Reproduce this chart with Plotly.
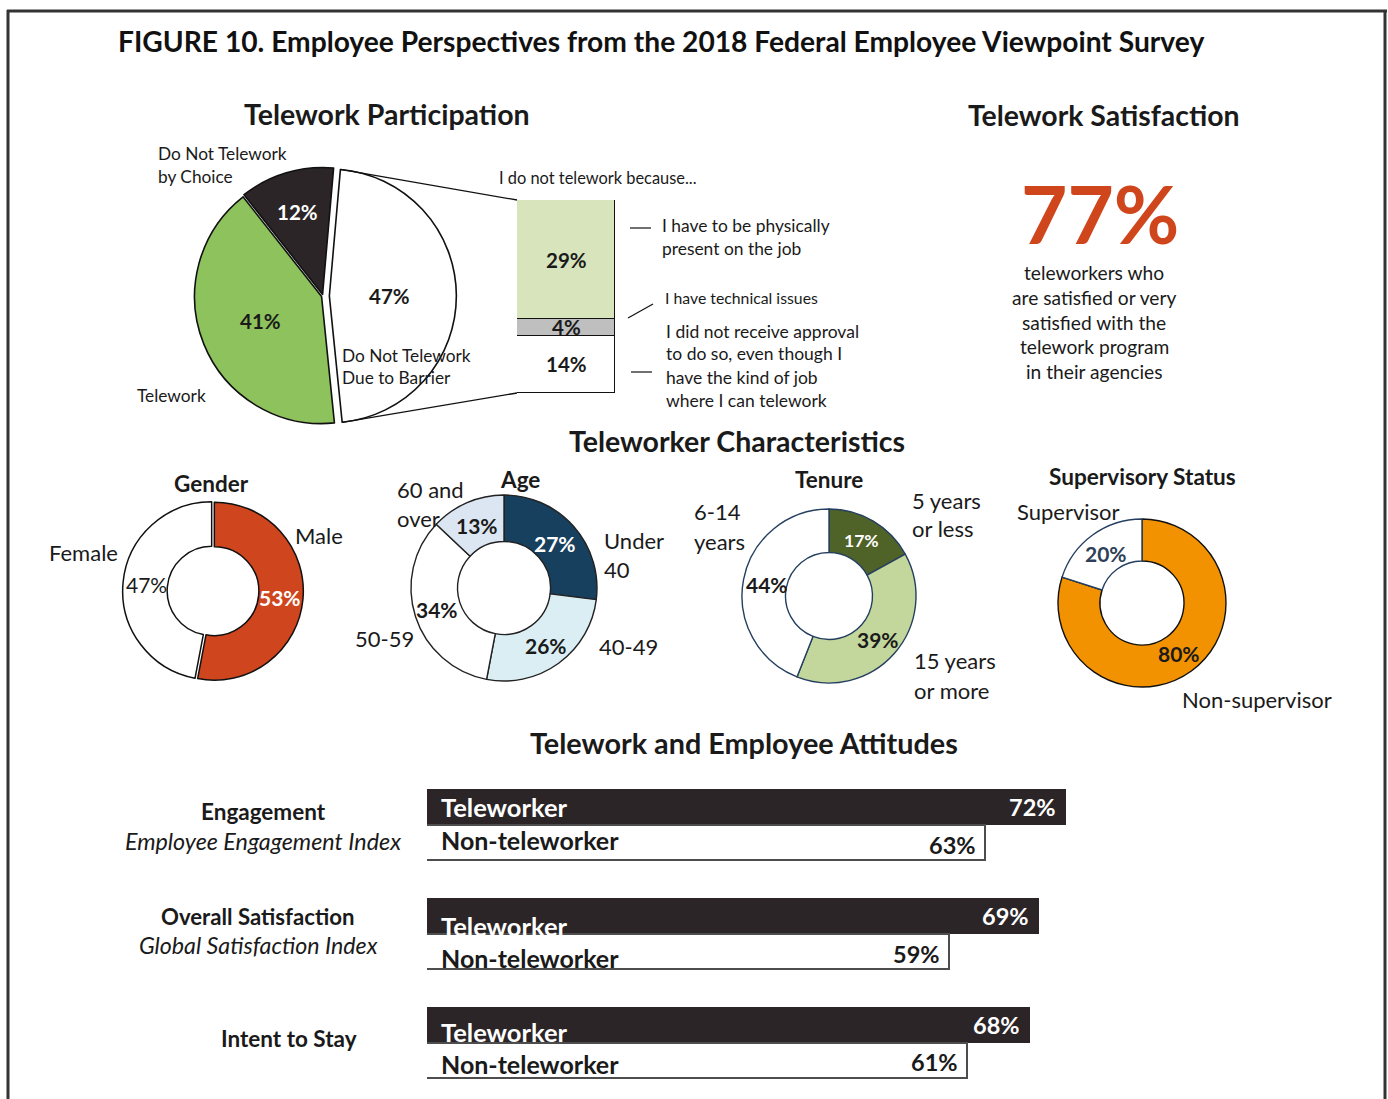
import math
import plotly.graph_objects as go

W, H = 1388, 1099
FONT = "Lato, 'Open Sans', sans-serif"
INK = "#1a1a1a"

# ---------------- data ----------------
part_labels = ["Do Not Telework Due to Barrier", "Telework", "Do Not Telework by Choice"]
part_values = [47, 41, 12]

reason_labels = ["Did not receive approval", "Technical issues", "Physically present on the job"]
reason_values = [14, 4, 29]  # stacked bottom to top

satisfaction_pct = 77

gender_labels = ["Male", "Female"]
gender_values = [53, 47]

age_labels = ["Under 40", "40-49", "50-59", "60 and over"]
age_values = [27, 26, 34, 13]

tenure_labels = ["5 years or less", "15 years or more", "6-14 years"]
tenure_values = [17, 39, 44]

super_labels = ["Non-supervisor", "Supervisor"]
super_values = [80, 20]

attitude_titles = ["Engagement", "Overall Satisfaction", "Intent to Stay"]
attitude_subtitles = ["Employee Engagement Index", "Global Satisfaction Index", ""]
teleworker_pct = [72, 69, 68]
non_teleworker_pct = [63, 59, 61]

# ---------------- helpers ----------------
def fx(x):
    return x / W


def fy(y):
    return 1 - y / H


annotations = []
shapes = []
PAD = 2.5  # annotation box padding, compensated so text starts at the given x


def text(x, y, s, size=16, bold=False, italic=False, color=INK, anchor="left", **extra):
    if bold:
        s = f"<b>{s}</b>"
    if italic:
        s = f"<i>{s}</i>"
    if anchor == "left":
        x -= PAD
    elif anchor == "right":
        x += PAD
    annotations.append(dict(
        x=fx(x), y=fy(y), xref="paper", yref="paper", text=s, showarrow=False,
        xanchor=anchor, yanchor="middle",
        font=dict(size=size, color=color, family=FONT), **extra))


def line(x0, y0, x1, y1, color="#111", width=1.2):
    shapes.append(dict(type="line", xref="paper", yref="paper",
                       x0=fx(x0), y0=fy(y0), x1=fx(x1), y1=fy(y1),
                       line=dict(color=color, width=width)))


fig = go.Figure()


def pie(labels, values, colors, line_colors, cx, cy, r, hole=0, pull=0.0,
        rotation=0, lw=1.5):
    pulls = pull if isinstance(pull, list) else [pull] * len(values)
    half = r * (1 + max(pulls))
    fig.add_trace(go.Pie(
        labels=labels, values=values, sort=False, direction="clockwise",
        rotation=rotation, hole=hole, pull=pulls, textinfo="none",
        marker=dict(colors=colors, line=dict(color=line_colors, width=lw)),
        domain=dict(x=[fx(cx - half), fx(cx + half)], y=[fy(cy + half), fy(cy - half)]),
        showlegend=False, hoverinfo="label+percent"))


def slice_labels(values, cx, cy, r, rotation, fracs, styles):
    total = sum(values)
    acc = 0
    for v, f, st in zip(values, fracs, styles):
        mid = math.radians(rotation + 360 * (acc + v / 2) / total)
        x = cx + f * r * math.sin(mid)
        y = cy - f * r * math.cos(mid)
        text(x, y, f"{v}%", anchor="center", **st)
        acc += v


# ---------------- frame & headings ----------------
line(7, 11, 1387, 11, color="#333", width=3)
line(8, 10, 8, H, color="#333", width=3)
line(1385, 10, 1385, H, color="#333", width=3)

text(118, 41, "FIGURE 10. Employee Perspectives from the 2018 Federal Employee Viewpoint Survey",
     size=28.2, bold=True, color="#111")
text(387, 114, "Telework Participation", size=28.5, bold=True, anchor="center")
text(1103, 115, "Telework Satisfaction", size=28.4, bold=True, anchor="center")
text(737, 441, "Teleworker Characteristics", size=28.5, bold=True, anchor="center")
text(744, 743, "Telework and Employee Attitudes", size=28.8, bold=True, anchor="center")

# ---------------- telework participation pie ----------------
P_CX, P_CY, P_R, P_ROT = 323, 296, 127, 5
P_PULL = [0.05, 0.012, 0.012]
pie(part_labels, part_values, ["#ffffff", "#8EC25C", "#2B2527"], "#111",
    P_CX, P_CY, P_R, pull=P_PULL, rotation=P_ROT, lw=1.6)
slice_labels(part_values, P_CX, P_CY, P_R, P_ROT, [0.52, 0.53, 0.69],
             [dict(size=20.5, bold=True), dict(size=20.5, bold=True),
              dict(size=20.5, bold=True, color="#ffffff")])

text(158, 153, "Do Not Telework", size=17.3)
text(158, 176, "by Choice", size=17.3)
text(137, 395, "Telework", size=17.3)
text(342, 355, "Do Not Telework", size=17.3)
text(342, 378, "Due to Barrier", size=17.3)

# stacked breakdown of the barrier slice
STACK_TOP, STACK_BOT = 200, 393
fig.add_trace(go.Bar(x=[0], y=[reason_values[0]], width=1, marker=dict(color="#ffffff", line=dict(color="#111", width=1.4)),
                     xaxis="x2", yaxis="y2", showlegend=False, name=reason_labels[0]))
fig.add_trace(go.Bar(x=[0], y=[reason_values[1]], width=1, marker=dict(color="#BFBFBF", line=dict(color="#111", width=1.4)),
                     xaxis="x2", yaxis="y2", showlegend=False, name=reason_labels[1]))
fig.add_trace(go.Bar(x=[0], y=[reason_values[2]], width=1, marker=dict(color="#D7E4BC", line=dict(color="#111", width=1.4)),
                     xaxis="x2", yaxis="y2", showlegend=False, name=reason_labels[2]))
acc = 0
for v in reason_values:
    annotations.append(dict(x=0, y=acc + v / 2, xref="x2", yref="y2", text=f"<b>{v}%</b>",
                            showarrow=False, font=dict(size=20.5, color=INK, family=FONT)))
    acc += v

# connector lines from the pulled slice to the breakdown column
tot = sum(part_values)
a0 = math.radians(P_ROT)
a1 = math.radians(P_ROT + 360 * part_values[0] / tot)
bis = (a0 + a1) / 2
pcx = P_CX + P_PULL[0] * P_R * math.sin(bis)
pcy = P_CY - P_PULL[0] * P_R * math.cos(bis)
line(pcx + P_R * math.sin(a0), pcy - P_R * math.cos(a0), 517, STACK_TOP, width=1.3)
line(pcx + P_R * math.sin(a1), pcy - P_R * math.cos(a1), 517, STACK_BOT, width=1.3)

text(499, 178, "I do not telework because...", size=16.4)
line(630, 228, 651, 228)
text(662, 225, "I have to be physically", size=17.4)
text(662, 248, "present on the job", size=17.4)
line(628, 318, 653, 304)
text(665, 298, "I have technical issues", size=15.8)
line(631, 372, 652, 372)
text(666, 331, "I did not receive approval", size=17.5)
text(666, 354, "to do so, even though I", size=17.5)
text(666, 377, "have the kind of job", size=17.5)
text(666, 400, "where I can telework", size=17.5)

# ---------------- telework satisfaction ----------------
text(1100, 213, f"{satisfaction_pct}%", size=80, bold=True, color="#D0461C", anchor="center",
     height=78, valign="middle")
for i, s in enumerate(["teleworkers who", "are satisfied or very", "satisfied with the",
                       "telework program", "in their agencies"]):
    text(1094, 273 + i * 24.6, s, size=19.2, anchor="center")

# ---------------- characteristics donuts ----------------
LBL = 22
# gender
pie(gender_labels, gender_values, ["#CF451E", "#ffffff"], "#111", 213, 591, 89,
    hole=0.5, pull=0.015, lw=1.5)
slice_labels(gender_values, 213, 591, 89, 0, [0.76, 0.75],
             [dict(size=21, bold=True, color="#ffffff"), dict(size=21, color=INK)])
text(212, 484, "Gender", size=22.5, bold=True, anchor="center")
text(295, 535, "Male", size=LBL)
text(49, 552, "Female", size=LBL)

# age
pie(age_labels, age_values, ["#17405E", "#DBEEF4", "#ffffff", "#DCE6F2"], "#222",
    504, 588, 93, hole=0.5, lw=1.4)
slice_labels(age_values, 504, 588, 93, 0, [0.73, 0.77, 0.76, 0.73],
             [dict(size=21, bold=True, color="#ffffff"), dict(size=21, bold=True),
              dict(size=21, bold=True), dict(size=21, bold=True)])
text(520, 479, "Age", size=22.5, bold=True, anchor="center")
text(398, 489, "60 and", size=LBL)
text(398, 518, "over", size=LBL)
text(604, 540, "Under", size=LBL)
text(604, 569, "40", size=LBL)
text(599, 646, "40-49", size=LBL)
text(355, 638, "50-59", size=LBL)

# tenure
pie(tenure_labels, tenure_values, ["#4F6228", "#C3D69B", "#ffffff"], "#243F60",
    829, 596, 87, hole=0.5, lw=1.4)
slice_labels(tenure_values, 829, 596, 87, 0, [0.74, 0.75, 0.72],
             [dict(size=17.5, bold=True, color="#ffffff"), dict(size=21, bold=True),
              dict(size=21, bold=True)])
text(829, 480, "Tenure", size=22.5, bold=True, anchor="center")
text(912, 501, "5 years", size=LBL)
text(912, 529, "or less", size=LBL)
text(694, 511, "6-14", size=LBL)
text(694, 541, "years", size=LBL)
text(914, 661, "15 years", size=LBL)
text(914, 690, "or more", size=LBL)

# supervisory status
pie(super_labels, super_values, ["#F29200", "#ffffff"], ["#111", "#243F60"],
    1142, 603, 84, hole=0.5, lw=1.4)
slice_labels(super_values, 1142, 603, 84, 0, [0.75, 0.73],
             [dict(size=21, bold=True), dict(size=21, bold=True, color="#2E3F57")])
text(1142, 477, "Supervisory Status", size=22.6, bold=True, anchor="center")
text(1017, 512, "Supervisor", size=LBL)
text(1182, 699, "Non-supervisor", size=LBL)

# ---------------- attitudes bars ----------------
tele_pos = [3 * i for i in range(len(teleworker_pct))]
non_pos = [3 * i + 1 for i in range(len(non_teleworker_pct))]
fig.add_trace(go.Bar(x=teleworker_pct, y=tele_pos, orientation="h", width=1,
                     marker=dict(color="#2B2527", line=dict(width=0)),
                     xaxis="x3", yaxis="y3", showlegend=False, name="Teleworker"))
fig.add_trace(go.Bar(x=non_teleworker_pct, y=non_pos, orientation="h", width=0.97,
                     marker=dict(color="#ffffff", line=dict(color="#4d4d4d", width=1.6)),
                     xaxis="x3", yaxis="y3", showlegend=False, name="Non-teleworker"))

tele_label_nudge = [0, -10, -7]
non_label_nudge = [3, -6, -3]
non_value_nudge = [-2, -2, -1]
for i in range(len(teleworker_pct)):
    annotations.append(dict(x=0, y=tele_pos[i], xref="x3", yref="y3", xanchor="left", xshift=12,
                            yshift=tele_label_nudge[i], text="<b>Teleworker</b>", showarrow=False,
                            font=dict(size=25.5, color="#ffffff", family=FONT)))
    annotations.append(dict(x=teleworker_pct[i], y=tele_pos[i], xref="x3", yref="y3", xanchor="right",
                            xshift=-8, text=f"<b>{teleworker_pct[i]}%</b>", showarrow=False,
                            font=dict(size=23.5, color="#ffffff", family=FONT)))
    annotations.append(dict(x=0, y=non_pos[i], xref="x3", yref="y3", xanchor="left", xshift=12,
                            yshift=non_label_nudge[i], text="<b>Non-teleworker</b>", showarrow=False,
                            font=dict(size=25, color=INK, family=FONT)))
    annotations.append(dict(x=non_teleworker_pct[i], y=non_pos[i], xref="x3", yref="y3", xanchor="right",
                            xshift=-8, yshift=non_value_nudge[i], text=f"<b>{non_teleworker_pct[i]}%</b>",
                            showarrow=False, font=dict(size=23.5, color=INK, family=FONT)))

text(263, 812, attitude_titles[0], size=22.5, bold=True, anchor="center")
text(263, 841, attitude_subtitles[0], size=23.3, italic=True, anchor="center")
text(258, 916, attitude_titles[1], size=22.2, bold=True, anchor="center")
text(258, 945, attitude_subtitles[1], size=23.2, italic=True, anchor="center")
text(289, 1038, attitude_titles[2], size=22.5, bold=True, anchor="center")

# ---------------- layout ----------------
UNIT = 36.33  # px per bar slot in the attitudes panel
BAR0 = 807    # centre of the first teleworker bar
att_top = BAR0 - 1 * UNIT
att_bot = BAR0 + 8 * UNIT
hidden = dict(visible=False, fixedrange=True)
fig.update_layout(
    width=W, height=H, autosize=False,
    margin=dict(l=0, r=0, t=0, b=0, pad=0),
    paper_bgcolor="#ffffff", plot_bgcolor="rgba(0,0,0,0)",
    barmode="stack", bargap=0,
    font=dict(family=FONT, color=INK),
    xaxis=dict(hidden, domain=[0, 0.01]), yaxis=dict(hidden, domain=[0, 0.01]),
    xaxis2=dict(hidden, domain=[fx(517), fx(615)], range=[-0.5, 0.5], anchor="y2"),
    yaxis2=dict(hidden, domain=[fy(STACK_BOT), fy(STACK_TOP)], range=[0, sum(reason_values)], anchor="x2"),
    xaxis3=dict(hidden, domain=[fx(427), fx(427 + 887)], range=[0, 100], anchor="y3"),
    yaxis3=dict(hidden, domain=[fy(att_bot), fy(att_top)], range=[8, -1], anchor="x3"),
    annotations=annotations, shapes=shapes,
)

fig.write_html("out.html")
